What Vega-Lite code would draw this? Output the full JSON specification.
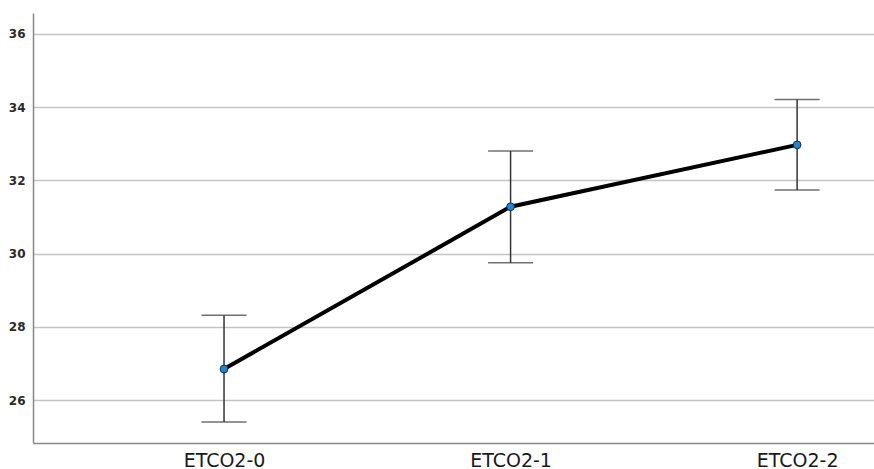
{
  "$schema": "https://vega.github.io/schema/vega-lite/v6.json",
  "width": 841,
  "height": 430,
  "autosize": {"type": "none"},
  "padding": {"left": 33, "top": 13, "right": 0, "bottom": 26},
  "background": "white",
  "config": {
    "view": {"stroke": null},
    "axis": {"labelFont": "DejaVu Sans", "titleFont": "DejaVu Sans"}
  },
  "data": {
    "values": [
      {"time": "ETCO2-0", "mean": 26.85, "lo": 25.40, "hi": 28.32},
      {"time": "ETCO2-1", "mean": 31.28, "lo": 29.75, "hi": 32.80},
      {"time": "ETCO2-2", "mean": 32.97, "lo": 31.74, "hi": 34.21}
    ]
  },
  "encoding": {
    "x": {
      "field": "time",
      "type": "ordinal",
      "scale": {"type": "point", "padding": 0.4675, "align": 0.713},
      "axis": {
        "title": null,
        "labelAngle": 0,
        "ticks": false,
        "domainColor": "#888888",
        "domainWidth": 1.5,
        "labelFontSize": 19,
        "labelColor": "#1a1a1a",
        "labelPadding": 8
      }
    }
  },
  "layer": [
    {
      "mark": {"type": "rule", "color": "#333333", "strokeWidth": 1.5},
      "encoding": {
        "y": {
          "field": "lo",
          "type": "quantitative",
          "scale": {"domain": [24.83, 36.57], "nice": false, "zero": false},
          "axis": {
            "title": null,
            "values": [26, 28, 30, 32, 34, 36],
            "ticks": false,
            "domainColor": "#888888",
            "domainWidth": 1.5,
            "gridColor": "#c4c4c4",
            "gridWidth": 1.5,
            "labelFontSize": 12,
            "labelFontWeight": "bold",
            "labelColor": "#2a2a2a",
            "labelPadding": 8
          }
        },
        "y2": {"field": "hi"}
      }
    },
    {
      "mark": {"type": "tick", "color": "#333333", "thickness": 1.5, "size": 45, "orient": "horizontal"},
      "encoding": {"y": {"field": "lo", "type": "quantitative"}}
    },
    {
      "mark": {"type": "tick", "color": "#333333", "thickness": 1.5, "size": 45, "orient": "horizontal"},
      "encoding": {"y": {"field": "hi", "type": "quantitative"}}
    },
    {
      "mark": {"type": "line", "color": "#000000", "strokeWidth": 4},
      "encoding": {"y": {"field": "mean", "type": "quantitative"}}
    },
    {
      "mark": {"type": "point", "filled": true, "fill": "#1f87d6", "stroke": "#1a2a3a", "strokeWidth": 1, "size": 60, "opacity": 1},
      "encoding": {"y": {"field": "mean", "type": "quantitative"}}
    }
  ]
}
